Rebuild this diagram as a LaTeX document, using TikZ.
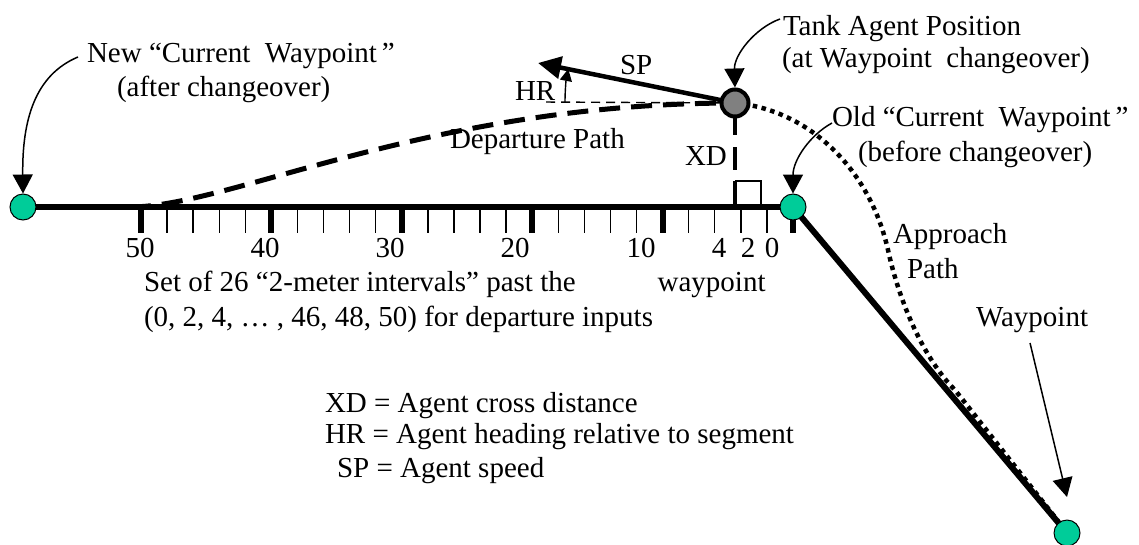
\documentclass[tikz,border=0pt]{standalone}
\usepackage{fontspec}
\setmainfont{Liberation Serif}
\usetikzlibrary{arrows.meta}
\pgfdeclarelayer{bg}
\pgfsetlayers{bg,main}
\definecolor{wpgreen}{RGB}{0,204,153}
\definecolor{agentgrey}{RGB}{128,128,128}
\begin{document}
\begin{tikzpicture}[x=1pt,y=-1pt,
  lbl/.style={inner sep=0pt, outer sep=0pt, anchor=base west, font=\fontsize{29}{34}\selectfont},
  num/.style={inner sep=0pt, anchor=base, font=\fontsize{29}{34}\selectfont},
  wp/.style={circle, draw=black, line width=1pt, fill=wpgreen, minimum size=26pt, inner sep=0pt},
  agentnode/.style={circle, draw=black, line width=4pt, fill=agentgrey, minimum size=27pt, inner sep=0pt},
  seg/.style={line width=6pt},
  majortick/.style={line width=6pt},
  minortick/.style={line width=1.4pt},
  callout/.style={line width=1.5pt, -{Triangle[length=19pt 0 0,width=20pt 0 0]}},
  sparrow/.style={line width=4.5pt, -{Triangle[length=23pt 0 0,width=22pt 0 0]}},
  hrarc/.style={line width=1.4pt, -{Triangle[length=12pt 0 0,width=12pt 0 0]}},
  hline/.style={line width=1.4pt, dash pattern=on 9pt off 6pt},
  deppath/.style={line width=5pt, dash pattern=on 21pt off 11pt},
  xdline/.style={line width=4.5pt, dash pattern=on 32pt off 12pt on 23pt off 11pt on 30pt off 0pt},
  apppath/.style={line width=4.5pt, dash pattern=on 4.5pt off 4.5pt},
  rightangle/.style={line width=1.4pt}
]
\useasboundingbox (0,0) rectangle (1139,544);

% main nodes
\node[wp] (newwp) at (23,207) {};
\node[wp] (oldwp) at (793,207) {};
\node[wp] (nextwp) at (1067,533) {};
\node[agentnode] (agent) at (735,103) {};

% free ends
\coordinate (depstart) at (130,207);
\coordinate (xdfoot) at (735,207);
\coordinate (sptip) at (538,63);
\coordinate (hrend) at (542,102);
\coordinate (appmerge) at (955,390);
\coordinate (append) at (1058,521);
\coordinate (wptip) at (1067,497);

\begin{pgfonlayer}{bg}
  % ticks
  \foreach \k in {0,...,25}{
    \pgfmathtruncatemacro\m{mod(\k,5)}
    \ifnum\m=0
      \draw[majortick] (141+26.08*\k,207) -- (141+26.08*\k,233);
    \else
      \draw[minortick] (141+26.08*\k,207) -- (141+26.08*\k,233);
    \fi
  }
  % segments
  \draw[seg] (newwp.center) -- (oldwp.center);
  \draw[seg] (oldwp.center) -- (nextwp.center);
  % departure path
  \draw[deppath] (depstart) .. controls (230,207) and (428,103) .. (agent.center);
  % approach path
  \draw[apppath] (agent.center) .. controls (810,110) and (870,170) .. (888,250)
     .. controls (900,305) and (925,360) .. (appmerge) -- (append);
  % XD
  \draw[xdline] (agent.center) -- (xdfoot);
  \draw[rightangle] (735,181) -- (761,181) -- (761,207);
  % heading
  \draw[hline] (agent.center) -- (hrend);
  \draw[sparrow] (agent.center) -- (sptip);
  \draw[hrarc] (565,102) arc[start angle=180, end angle=191.2, radius=170];
\end{pgfonlayer}

% labels
\node[lbl] (newl1) at (87,62) {New “Current~ Waypoint\,”};
\node[lbl] (newl2) at (117,96) {(after changeover)};
\node[lbl] (tankl1) at (783,35) {Tank Agent Position};
\node[lbl] (tankl2) at (782,67) {(at Waypoint~ changeover)};
\node[lbl] (oldl1) at (832,126) {Old “Current~ Waypoint\,”};
\node[lbl] (oldl2) at (858,161) {(before changeover)};
\node[lbl] (appl1) at (893,243) {Approach};
\node[lbl] (appl2) at (907,278) {Path};
\node[lbl] (wpl) at (976,326) {Waypoint};
\node[lbl] (depl) at (450,148) {Departure Path};
\node[lbl] (xdl) at (685,165) {XD};
\node[lbl] (hrl) at (515,100) {HR};
\node[lbl] (spl) at (620,74) {SP};
\node[lbl] (setl1) at (144,291) {Set of 26 “2-meter intervals” past the\hspace{82pt}waypoint};
\node[lbl] (setl2) at (144,326) {(0, 2, 4, … , 46, 48, 50) for departure inputs};
\node[lbl] (leg1) at (325,412) {XD = Agent cross distance};
\node[lbl] (leg2) at (325,443) {HR = Agent heading relative to segment};
\node[lbl] (leg3) at (337,477) {SP = Agent speed};

% tick numbers
\node[num] (n50) at (140,257) {50};
\node[num] (n40) at (265,257) {40};
\node[num] (n30) at (390,257) {30};
\node[num] (n20) at (515,257) {20};
\node[num] (n10) at (641,257) {10};
\node[num] (n4) at (719,257) {4};
\node[num] (n2) at (748,257) {2};
\node[num] (n0) at (772,257) {0};

% callouts
\draw[callout] ([shift={(-9,-5)}]newl1.base west) .. controls (35,75) and (22,120) .. (newwp.north);
\draw[callout] ([shift={(-3,-16)}]tankl1.base west) .. controls (755,28) and (734,55) .. (agent.north);
\draw[callout] ([shift={(0,-3)}]oldl1.base west) .. controls (810,135) and (793,160) .. (oldwp.north);
\draw[callout] ([shift={(-2,17)}]wpl.base) -- (wptip);
\end{tikzpicture}
\end{document}
